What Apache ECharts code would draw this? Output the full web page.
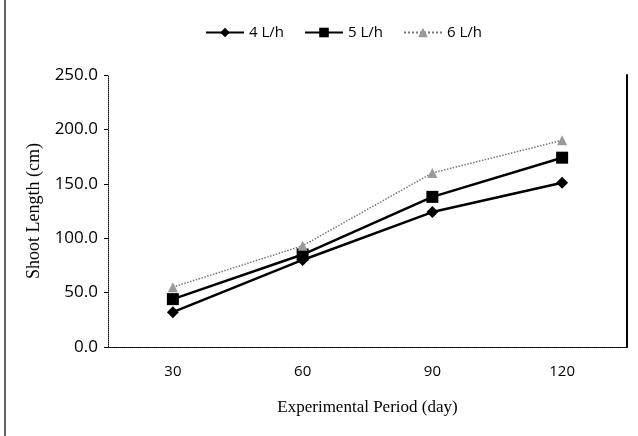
<!DOCTYPE html>
<html>
<head>
<meta charset="utf-8">
<script src="https://cdn.jsdelivr.net/npm/echarts@6/dist/echarts.min.js"></script>
<style>html,body{margin:0;padding:0;background:#fff;}#c{width:638px;height:436px;}</style>
</head>
<body>
<div id="c"></div>
<script>
const categories = ['30', '60', '90', '120'];
const s4 = [32, 80, 124, 151];
const s5 = [44, 85, 138, 174];
const s6 = [55, 93, 160, 190];
const seriesNames = ['4 L/h', '5 L/h', '6 L/h'];

const chart = echarts.init(document.getElementById('c'));
chart.setOption({
  animation: false,
  backgroundColor: '#fff',
  legend: {
    top: 20, left: 200, itemWidth: 38, itemHeight: 12, itemGap: 20,
    textStyle: { fontFamily: 'Open Sans', fontSize: 15, color: '#000' },
    data: seriesNames
  },
  grid: { left: 108, right: 11, top: 75, bottom: 89 },
  xAxis: [{
    type: 'category', data: categories, boundaryGap: true,
    axisLine: { lineStyle: { color: '#000', type: 'dotted', width: 1 } },
    axisTick: { show: false },
    axisLabel: { fontFamily: 'Open Sans', fontSize: 15, color: '#000', margin: 17 },
    name: 'Experimental Period (day)', nameLocation: 'middle', nameGap: 52,
    nameTextStyle: { fontFamily: 'Liberation Serif', fontSize: 17, color: '#000' }
  }, {
    type: 'category', data: categories, position: 'top',
    axisLine: { lineStyle: { color: '#000', type: 'dotted', width: 1 } },
    axisTick: { show: false }, axisLabel: { show: false }
  }],
  yAxis: [{
    type: 'value', min: 0, max: 250, interval: 50,
    axisLine: { show: true, lineStyle: { color: '#000', type: 'dotted', width: 1 } },
    axisTick: { show: true, length: 4, lineStyle: { color: '#000' } },
    splitLine: { show: false },
    axisLabel: { fontFamily: 'Open Sans', fontSize: 17, color: '#000', margin: 10,
      formatter: v => v.toFixed(1) },
    name: 'Shoot Length (cm)', nameLocation: 'middle', nameGap: 63, nameRotate: 90,
    nameTextStyle: { fontFamily: 'Liberation Serif', fontSize: 18, color: '#000' }
  }, {
    type: 'value', min: 0, max: 250, interval: 50, position: 'right',
    axisLine: { show: true, lineStyle: { color: '#000', width: 2 } },
    axisTick: { show: false }, axisLabel: { show: false }, splitLine: { show: false }
  }],
  series: [{
    name: seriesNames[0], type: 'line', data: s4,
    symbol: 'diamond', symbolSize: 12,
    lineStyle: { color: '#000', width: 2.5 }, itemStyle: { color: '#000' }
  }, {
    name: seriesNames[1], type: 'line', data: s5,
    symbol: 'rect', symbolSize: 12,
    lineStyle: { color: '#000', width: 2.5 }, itemStyle: { color: '#000' }
  }, {
    name: seriesNames[2], type: 'line', data: s6,
    symbol: 'triangle', symbolSize: 10,
    lineStyle: { color: '#777', width: 1.5, type: 'dotted' }, itemStyle: { color: '#999' }
  }],
  graphic: [{
    type: 'line', shape: { x1: 5, y1: 0, x2: 5, y2: 436 },
    style: { stroke: '#333', lineWidth: 1.5 }
  }]
});
</script>
</body>
</html>
